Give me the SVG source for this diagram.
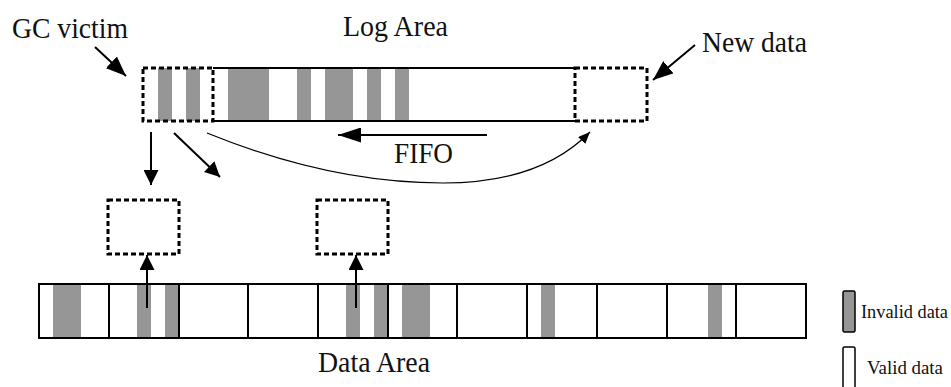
<svg xmlns="http://www.w3.org/2000/svg" width="951" height="387" viewBox="0 0 951 387">
<style>
  .t { font-family: "Liberation Serif", "Times New Roman", serif; fill: #111; }
  .lbl { font-size: 29px; }
  .leg { font-size: 18px; }
  .solid { fill: none; stroke: #000; stroke-width: 2; }
  .dash { fill: none; stroke: #000; stroke-width: 3; stroke-dasharray: 5 3; }
  .inv { fill: #969696; stroke: none; }
  .conn { fill: none; stroke: #000; stroke-width: 2; }
  .thin { fill: none; stroke: #000; stroke-width: 1.2; }
</style>
<defs>
  <marker id="ahL" markerUnits="userSpaceOnUse" markerWidth="20" markerHeight="16" refX="20" refY="8" orient="auto">
    <path d="M0,0 L20,8 L0,16 Z" fill="#000"/>
  </marker>
  <marker id="ahM" markerUnits="userSpaceOnUse" markerWidth="15" markerHeight="15" refX="15" refY="7.5" orient="auto">
    <path d="M0,0 L15,7.5 L0,15 Z" fill="#000"/>
  </marker>
  <marker id="ahF" markerUnits="userSpaceOnUse" markerWidth="23" markerHeight="15" refX="23" refY="7.5" orient="auto">
    <path d="M0,0 L23,7.5 L0,15 Z" fill="#000"/>
  </marker>
  <marker id="ahS" markerUnits="userSpaceOnUse" markerWidth="12" markerHeight="10" refX="12" refY="5" orient="auto">
    <path d="M0,0 L12,5 L0,10 Z" fill="#000"/>
  </marker>
</defs>
<rect width="951" height="387" fill="#fff"/>

<text class="t lbl" font-family="Liberation Serif" x="12" y="38" textLength="116" lengthAdjust="spacingAndGlyphs">GC victim</text>
<text class="t lbl" font-family="Liberation Serif" x="343" y="36" textLength="105" lengthAdjust="spacingAndGlyphs">Log Area</text>
<text class="t lbl" font-family="Liberation Serif" x="702" y="52" textLength="105" lengthAdjust="spacingAndGlyphs">New data</text>
<text class="t lbl" font-family="Liberation Serif" x="394" y="163" textLength="59" lengthAdjust="spacingAndGlyphs">FIFO</text>
<text class="t lbl" font-family="Liberation Serif" x="318" y="372" textLength="112" lengthAdjust="spacingAndGlyphs">Data Area</text>

<g id="log-area">
  <rect class="inv" x="228" y="68" width="41" height="53"/>
  <rect class="inv" x="297" y="68" width="14" height="53"/>
  <rect class="inv" x="325" y="68" width="28" height="53"/>
  <rect class="inv" x="367" y="68" width="14" height="53"/>
  <rect class="inv" x="395" y="68" width="14" height="53"/>
  <path class="solid" d="M213,68 H575 M213,121 H575"/>
</g>
<g id="gc-victim">
  <rect class="inv" x="158" y="68" width="14" height="53"/>
  <rect class="inv" x="186" y="68" width="14" height="53"/>
  <rect class="dash" x="143" y="68" width="70" height="53"/>
</g>
<g id="new-data">
  <rect class="dash" x="575" y="68" width="72" height="53"/>
</g>

<g id="buffer-1">
  <rect class="dash" x="108" y="200" width="71" height="54"/>
</g>
<g id="buffer-2">
  <rect class="dash" x="317" y="200" width="71" height="54"/>
</g>

<g id="data-area">
  <rect class="inv" x="53" y="284" width="28" height="54"/>
  <rect class="inv" x="137" y="284" width="14" height="54"/>
  <rect class="inv" x="165" y="284" width="14" height="54"/>
  <rect class="inv" x="346" y="284" width="14" height="54"/>
  <rect class="inv" x="374" y="284" width="14" height="54"/>
  <rect class="inv" x="402" y="284" width="28" height="54"/>
  <rect class="inv" x="541" y="284" width="14" height="54"/>
  <rect class="inv" x="708" y="284" width="14" height="54"/>
  <rect class="solid" x="39" y="284" width="767" height="54"/>
  <path class="solid" d="M109,284 V338 M179,284 V338 M248,284 V338 M318,284 V338 M388,284 V338 M457,284 V338 M527,284 V338 M597,284 V338 M667,284 V338 M736,284 V338"/>
</g>

<g id="legend">
  <rect x="843" y="291" width="12" height="41" rx="1.5" fill="#969696" stroke="#000" stroke-width="1.5"/>
  <text class="t leg" font-family="Liberation Serif" x="861" y="318" textLength="87" lengthAdjust="spacingAndGlyphs">Invalid data</text>
  <rect x="843" y="347" width="12" height="50" rx="1.5" fill="#fff" stroke="#000" stroke-width="1.5"/>
  <text class="t leg" font-family="Liberation Serif" x="867" y="374" textLength="76" lengthAdjust="spacingAndGlyphs">Valid data</text>
</g>

<g id="connectors">
  <path class="conn" d="M95,47 L126,76" marker-end="url(#ahL)"/>
  <path class="conn" d="M695,45 L653,80" marker-end="url(#ahL)"/>
  <path class="conn" d="M487,135 L338,135" marker-end="url(#ahF)"/>
  <path class="conn" d="M151,132 L151,185" marker-end="url(#ahM)"/>
  <path class="conn" d="M174,133 L220,177" marker-end="url(#ahM)"/>
  <path class="thin" d="M207,133 Q330,183 443,183 Q540,183 590,132" marker-end="url(#ahS)"/>
  <path class="conn" d="M147,308 L147,255" marker-end="url(#ahM)"/>
  <path class="conn" d="M356,308 L356,255" marker-end="url(#ahM)"/>
</g>
</svg>
